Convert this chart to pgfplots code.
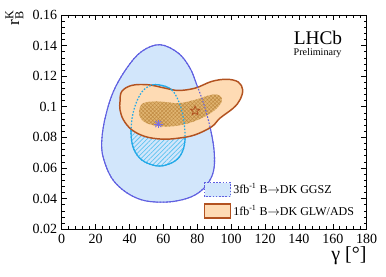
\documentclass[border=0pt]{standalone}
\usepackage{fontspec}
\setmainfont{Liberation Serif}
\usepackage{pgfplots}
\pgfplotsset{compat=1.18}
\usetikzlibrary{patterns.meta,plotmarks}
\pgfdeclareplotmark{ostar}{%
  \pgfpathmoveto{\pgfpointpolar{90}{\pgfplotmarksize}}%
  \pgfpathlineto{\pgfpointpolar{126}{0.42\pgfplotmarksize}}%
  \pgfpathlineto{\pgfpointpolar{162}{\pgfplotmarksize}}%
  \pgfpathlineto{\pgfpointpolar{198}{0.42\pgfplotmarksize}}%
  \pgfpathlineto{\pgfpointpolar{234}{\pgfplotmarksize}}%
  \pgfpathlineto{\pgfpointpolar{270}{0.42\pgfplotmarksize}}%
  \pgfpathlineto{\pgfpointpolar{306}{\pgfplotmarksize}}%
  \pgfpathlineto{\pgfpointpolar{342}{0.42\pgfplotmarksize}}%
  \pgfpathlineto{\pgfpointpolar{18}{\pgfplotmarksize}}%
  \pgfpathlineto{\pgfpointpolar{54}{0.42\pgfplotmarksize}}%
  \pgfpathclose
  \pgfusepathqstroke
}
\definecolor{bigblue}{RGB}{210,230,251}
\definecolor{blueline}{RGB}{95,95,225}
\definecolor{cyanline}{RGB}{35,170,232}
\definecolor{hatchblue}{RGB}{95,195,240}
\definecolor{orfill}{RGB}{254,219,180}
\definecolor{orline}{RGB}{178,82,32}
\definecolor{inorfill}{RGB}{224,180,112}
\definecolor{inorhatch}{RGB}{192,138,66}
\definecolor{astcol}{RGB}{120,110,230}
\begin{document}
\begin{tikzpicture}
\begin{axis}[
  scale only axis, width=228.75pt, height=160.7pt,
  xmin=0, xmax=180, ymin=0.02, ymax=0.16,
  xtick={0,20,40,60,80,100,120,140,160,180},
  ytick={0.02,0.04,0.06,0.08,0.1,0.12,0.14,0.16},
  yticklabels={0.02,0.04,0.06,0.08,0.1,0.12,0.14,0.16},
  minor x tick num=4, minor y tick num=4,
  tick align=inside, tick pos=both,
  major tick length=4pt, minor tick length=2.2pt,
  /pgf/number format/assume math mode=true,
  tick label style={font=\fontsize{10.5}{12}\selectfont},
  axis line style={line width=0.6pt},
  every tick/.style={line width=0.5pt, black},
  xlabel={γ [°]},
  xlabel style={font=\fontsize{15}{17}\selectfont, at={(axis description cs:1,-0.125)}, anchor=east, inner sep=0pt},
  ylabel={r$_{\mathrm{B}}^{\mathrm{K}}$},
  ylabel style={font=\fontsize{13}{15}\selectfont, at={(axis description cs:-0.155,1.025)}, anchor=east, inner sep=0pt},
  legend style={at={(axis description cs:0.465,0.225)}, anchor=north west, draw=none, fill=none,
    font=\fontsize{9}{10}\selectfont, row sep=4pt, inner sep=0pt,
    nodes={inner sep=1.5pt}},
  legend cell align=left,
]
% big blue
\addplot[forget plot, fill=bigblue, draw=blueline, line width=0.8pt, smooth cycle, tension=0.6] coordinates {
(58.0,0.1406) (68.8,0.1351) (75.7,0.1253) (79.7,0.1144) (84.6,0.0992) (88.5,0.0817) (90.1,0.0686) (89.5,0.0577) (85.6,0.049) (78.7,0.0424) (68.8,0.0387) (58.0,0.0377) (47.2,0.0392) (37.4,0.0446) (29.5,0.0534) (24.6,0.0664) (23.6,0.0773) (25.6,0.0926) (30.5,0.110) (38.4,0.1253) (47.2,0.1362)
};
% inner blue hatched
\addplot[forget plot, draw=none, pattern={Lines[angle=45,distance=2.4pt,line width=0.55pt]}, pattern color=hatchblue, smooth cycle, tension=0.6] coordinates {
(57.0,0.1144) (64.9,0.1111) (69.8,0.1013) (72.4,0.0882) (72.4,0.0751) (68.8,0.0664) (61.9,0.0621) (55.1,0.0616) (47.2,0.0653) (42.3,0.073) (40.9,0.0839) (42.3,0.0969) (46.2,0.1079) (51.1,0.1133)
};
\addplot[forget plot, draw=cyanline, line width=0.9pt, smooth cycle, tension=0.6] coordinates {
(57.0,0.1144) (64.9,0.1111) (69.8,0.1013) (72.4,0.0882) (72.4,0.0751) (68.8,0.0664) (61.9,0.0621) (55.1,0.0616) (47.2,0.0653) (42.3,0.073) (40.9,0.0839) (42.3,0.0969) (46.2,0.1079) (51.1,0.1133)
};
% orange outer
\addplot[forget plot, fill=orfill, draw=orline, line width=1.1pt, smooth cycle, tension=0.6] coordinates {
(34.4,0.1035) (35.4,0.110) (41.3,0.114) (51.1,0.1144) (61.0,0.1122) (68.8,0.1107) (78.7,0.1122) (88.5,0.1166) (97.4,0.1180) (104.2,0.1162) (106.8,0.1111) (105.2,0.1046) (101.3,0.0992) (93.4,0.0926) (88.5,0.0870) (78.7,0.0817) (68.8,0.0795) (59.0,0.0789) (49.2,0.0806) (41.3,0.085) (36.4,0.0915) (34.4,0.098)
};
% orange inner
\addplot[forget plot, fill=inorfill, draw=none, smooth cycle, tension=0.6] coordinates {
(45.6,0.0969) (48.2,0.1024) (57.0,0.1035) (68.8,0.1024) (78.7,0.1046) (88.5,0.1079) (93.4,0.1072) (94.4,0.1035) (90.5,0.098) (82.6,0.0926) (72.8,0.0887) (62.9,0.0871) (53.1,0.0882) (47.2,0.0915)
};
\addplot[forget plot, draw=none, pattern={Hatch[angle=45,distance=2pt,line width=0.35pt]}, pattern color=inorhatch, smooth cycle, tension=0.6] coordinates {
(45.6,0.0969) (48.2,0.1024) (57.0,0.1035) (68.8,0.1024) (78.7,0.1046) (88.5,0.1079) (93.4,0.1072) (94.4,0.1035) (90.5,0.098) (82.6,0.0926) (72.8,0.0887) (62.9,0.0871) (53.1,0.0882) (47.2,0.0915)
};
% dotted overlays of blue contours
\addplot[forget plot, draw=blueline, line width=0.8pt, dash pattern=on 1.2pt off 1.2pt, smooth cycle, tension=0.6] coordinates {
(58.0,0.1406) (68.8,0.1351) (75.7,0.1253) (79.7,0.1144) (84.6,0.0992) (88.5,0.0817) (90.1,0.0686) (89.5,0.0577) (85.6,0.049) (78.7,0.0424) (68.8,0.0387) (58.0,0.0377) (47.2,0.0392) (37.4,0.0446) (29.5,0.0534) (24.6,0.0664) (23.6,0.0773) (25.6,0.0926) (30.5,0.110) (38.4,0.1253) (47.2,0.1362)
};
\addplot[forget plot, draw=cyanline, line width=0.9pt, dash pattern=on 1.2pt off 1.2pt, smooth cycle, tension=0.6] coordinates {
(57.0,0.1144) (64.9,0.1111) (69.8,0.1013) (72.4,0.0882) (72.4,0.0751) (68.8,0.0664) (61.9,0.0621) (55.1,0.0616) (47.2,0.0653) (42.3,0.073) (40.9,0.0839) (42.3,0.0969) (46.2,0.1079) (51.1,0.1133)
};
% markers
\addplot[forget plot, only marks, mark=+, mark size=3.2pt, astcol, line width=0.6pt] coordinates {(57.0,0.0887)};
\addplot[forget plot, only marks, mark=x, mark size=3.2pt, astcol, line width=0.6pt] coordinates {(57.0,0.0887)};
\addplot[forget plot, only marks, mark=ostar, mark size=3.6pt, draw=orline, line width=0.6pt] coordinates {(78.7,0.0974)};
% LHCb text
\node[font=\fontsize{14.5}{16}\selectfont, anchor=center] at (rel axis cs:0.84,0.895) {LHCb};
\node[font=\fontsize{7.6}{9}\selectfont, anchor=center] at (rel axis cs:0.839,0.823) {Preliminary};
% legend
\addlegendimage{legend image code/.code={\draw[fill=bigblue, draw=blueline, line width=0.8pt, dash pattern=on 1.2pt off 1.2pt] (0pt,-5.25pt) rectangle (19.5pt,5.25pt);}}
\addlegendentry{3fb\textsuperscript{-1} B$\rightarrow$DK GGSZ}
\addlegendimage{legend image code/.code={\draw[fill=orfill, draw=orline, line width=1.1pt] (0pt,-5.25pt) rectangle (19.5pt,5.25pt);}}
\addlegendentry{1fb\textsuperscript{-1} B$\rightarrow$DK GLW/ADS}
\end{axis}
\pgfresetboundingbox
\path[use as bounding box] (-46.3pt,-35.8pt) rectangle (243.2pt,171.95pt);
\end{tikzpicture}
\end{document}
